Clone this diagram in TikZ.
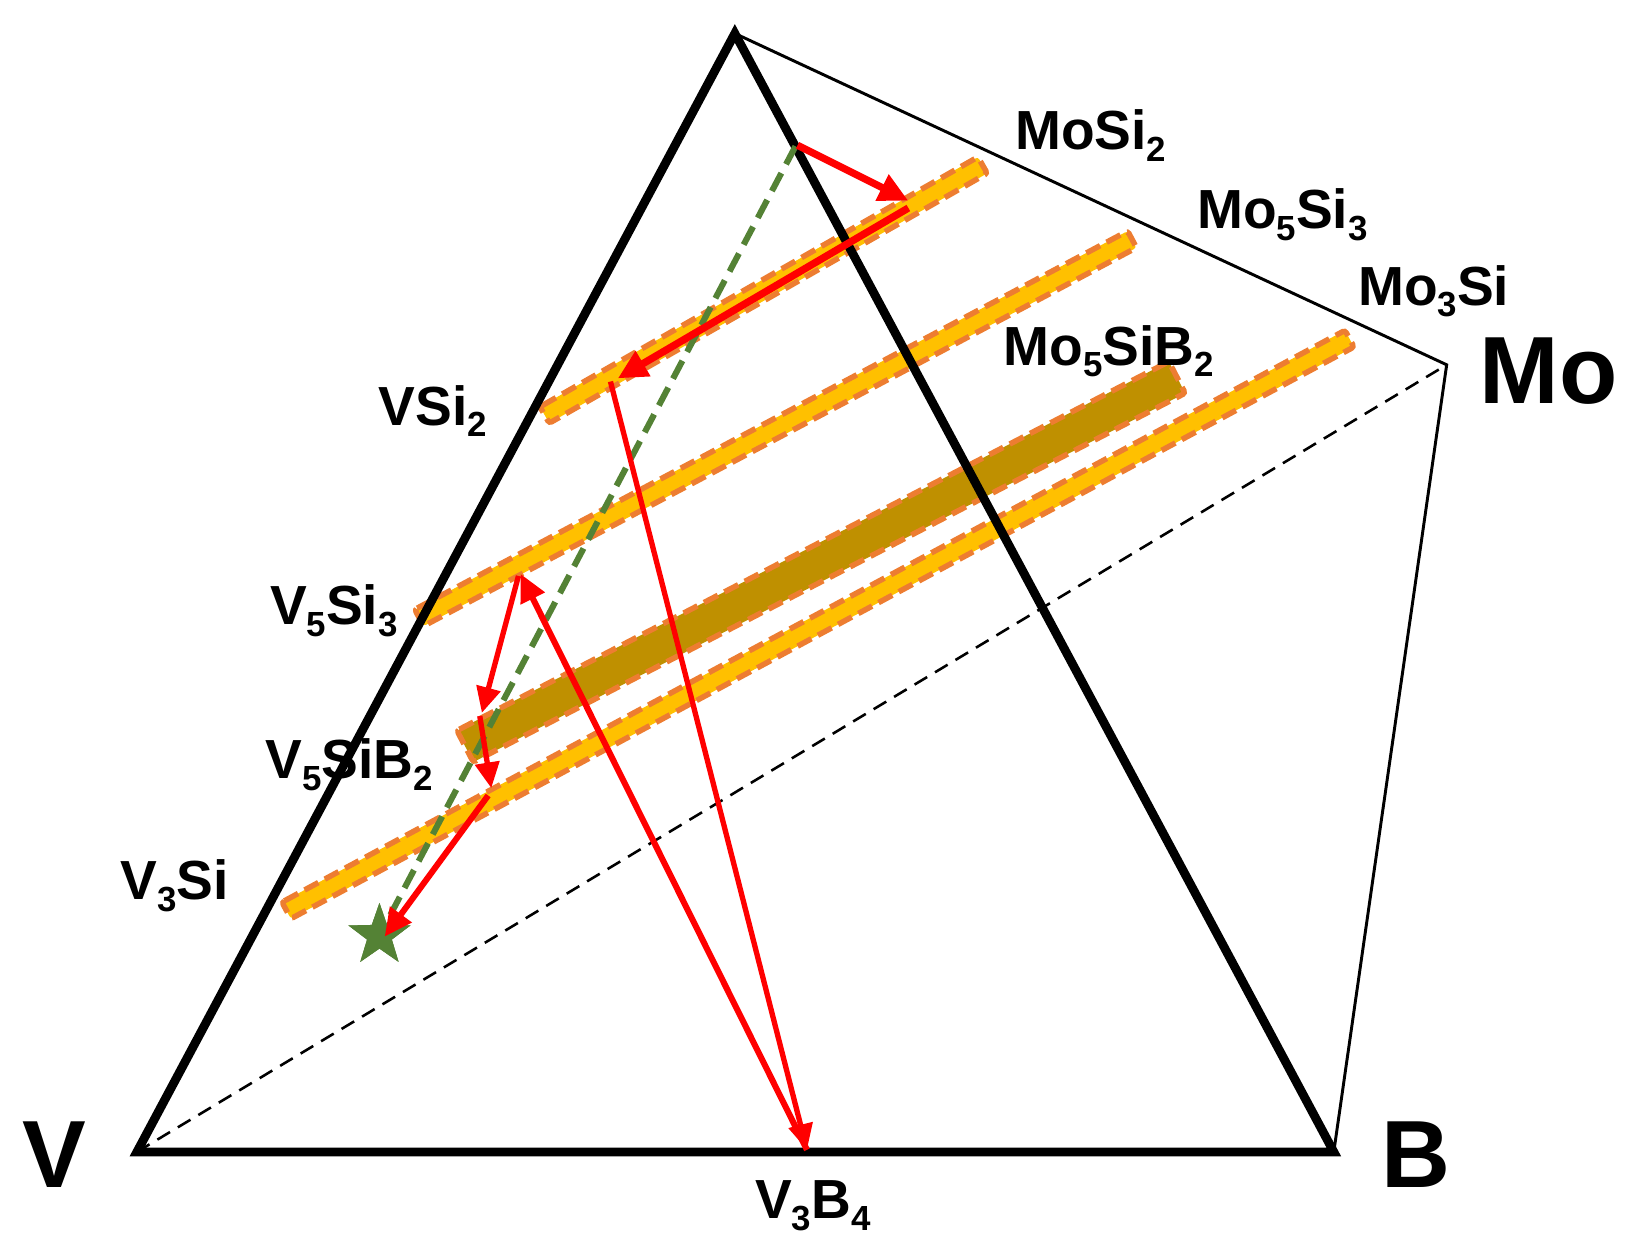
\documentclass[tikz,border=0pt]{standalone}
\usepackage{fontspec}
\setmainfont{Liberation Sans}
\usetikzlibrary{arrows.meta,calc,shapes.geometric}
\definecolor{bandyel}{HTML}{FFC000}
\definecolor{bandor}{HTML}{ED7D31}
\definecolor{bandbr}{HTML}{BF9000}
\definecolor{pathgreen}{HTML}{548235}
\definecolor{pathred}{HTML}{FF0000}
\newcommand{\sbs}[1]{\raisebox{-6.5pt}{\fontsize{19}{22}\selectfont #1}}
\newcommand{\bandpoly}[4]{%
  \path[#4] ($(#1)!#3!90:(#2)$) -- ($(#2)!#3!-90:(#1)$) -- ($(#2)!#3!90:(#1)$) -- ($(#1)!#3!-90:(#2)$) -- cycle;}
\tikzset{
  thickedge/.style={line width=4.8pt, line join=miter},
  thinedge/.style={line width=1.6pt},
  hiddenedge/.style={line width=1.4pt, dash pattern=on 8pt off 5pt},
  yband/.style={fill=bandyel, draw=bandor, line width=3pt, dash pattern=on 8.5pt off 4pt, rounded corners=1.5pt},
  bband/.style={fill=bandbr, draw=bandor, line width=3pt, dash pattern=on 8.5pt off 4pt, rounded corners=1.5pt},
  trace/.style={pathgreen, line width=3.3pt, dash pattern=on 11pt off 5.5pt},
  bigred/.style={pathred, line width=4pt, -{Triangle[length=16pt,width=15pt]}},
  midred/.style={pathred, line width=3.3pt, -{Triangle[length=15pt,width=14pt]}},
  thinred/.style={pathred, line width=2.9pt, -{Triangle[length=14pt,width=13pt]}},
  lab/.style={font=\fontsize{30}{36}\selectfont\bfseries, inner sep=0pt, anchor=base west},
  biglab/.style={font=\fontsize{52}{60}\selectfont\bfseries, inner sep=0pt, anchor=base west},
  target/.style={star, star points=5, star point ratio=2.5, fill=pathgreen, draw=none, minimum size=1.25cm, inner sep=0pt}
}
\begin{document}
\begin{tikzpicture}[x=0.02cm, y=-0.02cm]
\useasboundingbox (0,0) rectangle (1568,1193);
% corners
\coordinate (Si) at (703,32);
\coordinate (V) at (131,1102);
\coordinate (B) at (1276,1102);
\coordinate (Mo) at (1384,349);
% band end points
\coordinate (b1a) at (521,397);
\coordinate (b1b) at (940,158);
\coordinate (b2a) at (401,591);
\coordinate (b2b) at (1083,229);
\coordinate (b3a) at (445,714);
\coordinate (b3b) at (1126,361);
\coordinate (b4a) at (274,871);
\coordinate (b4b) at (1291,324);
% bands
\bandpoly{b1a}{b1b}{0.18cm}{yband}
\bandpoly{b2a}{b2b}{0.18cm}{yband}
\bandpoly{b4a}{b4b}{0.18cm}{yband}
\bandpoly{b3a}{b3b}{0.34cm}{bband}
% edges
\draw[thinedge] (Si) -- (Mo) -- (B);
\draw[hiddenedge] (V) -- (Mo);
\draw[thickedge] (V) -- (Si) -- (B) -- cycle;
% path points
\coordinate (p0) at (763,139);
\coordinate (p1) at (869,192);
\coordinate (p1s) at (869,199);
\coordinate (p2) at (591,362);
\coordinate (p2s) at (584,365);
\coordinate (p3) at (772,1100);
\coordinate (p4) at (498,549);
\coordinate (p4s) at (496,551);
\coordinate (p5) at (461,682);
\coordinate (p5s) at (459,685);
\coordinate (p6) at (470,754);
\coordinate (p6s) at (467,761);
\coordinate (p7) at (368,896);
\coordinate (g0) at (761,140);
% green trace and star
\node[target] (st) at (363,895) {};
\draw[trace] (g0) -- (st.center);
\node[target] at (363,895) {};
% red arrows
\draw[bigred] (p0) -- (p1);
\draw[bigred] (p1s) -- (p2);
\draw[thinred] (p2s) -- (p3);
\draw[midred] (p3) -- (p4);
\draw[thinred] (p4s) -- (p5);
\draw[thinred] (p5s) -- (p6);
\draw[midred] (p6s) -- (p7);
% labels
\node[lab] (lmosi2) at (971,143.5) {MoSi\sbs{2}};
\node[lab] (lmo5si3) at (1145,218.4) {Mo\sbs{5}Si\sbs{3}};
\node[lab] (lmo3si) at (1299,291.8) {Mo\sbs{3}Si};
\node[lab] (lmo5sib2) at (960,349.2) {Mo\sbs{5}SiB\sbs{2}};
\node[lab] (lvsi2) at (362,406.6) {VSi\sbs{2}};
\node[lab] (lv5si3) at (258,597.9) {V\sbs{5}Si\sbs{3}};
\node[lab] (lv5sib2) at (253.5,744.8) {V\sbs{5}SiB\sbs{2}};
\node[lab] (lv3si) at (115,861) {V\sbs{3}Si};
\node[lab] (lv3b4) at (722,1165.5) {V\sbs{3}B\sbs{4}};
\node[biglab] (lmo) at (1415,386) {Mo};
\node[biglab] (lv) at (21,1136.5) {V};
\node[biglab] (lb) at (1321,1136.5) {B};
\end{tikzpicture}
\end{document}
